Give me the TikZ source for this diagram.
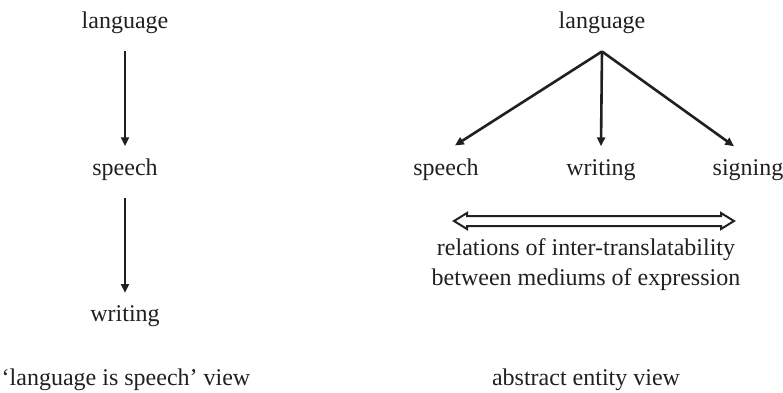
\documentclass[tikz,border=0pt]{standalone}
\usepackage{fontspec}
\setmainfont{Liberation Serif}
\usetikzlibrary{arrows.meta}
\definecolor{ink}{HTML}{231F20}

\begin{document}
\begin{tikzpicture}[x=0.5pt,y=-0.5pt,line width=1.3pt,color=ink,
  lbl/.style={inner sep=0pt,anchor=base,font=\fontsize{12}{15}\selectfont},
  arr/.style={-{Triangle[length=4.4pt,width=4pt]}},
  down/.style={arr,shorten <=8.5pt,shorten >=5.5pt}]
  \useasboundingbox (0,0) rectangle (783,392);
  % 'language is speech' view
  \node[lbl] (llang) at (125,28) {language};
  \node[lbl] (lspeech) at (125,175) {speech};
  \node[lbl] (lwriting) at (125,321) {writing};
  \draw[down] (llang) -- (lspeech);
  \draw[down] (lspeech) -- (lwriting);
  \node[lbl] (lview) at (126,385) {‘language is speech’ view};
  % abstract entity view
  \node[lbl] (rlang) at (602,28) {language};
  \coordinate (apex) at ([yshift=-8.5pt]rlang.south);
  \node[lbl] (rspeech) at (446,175) {speech};
  \node[lbl] (rwriting) at (601,175) {writing};
  \node[lbl] (rsigning) at (748,175) {signing};
  \draw[arr] (apex) -- ([xshift=4.5pt,yshift=5.8pt]rspeech.north);
  \draw[arr] (apex) -- ([yshift=5.8pt]rwriting.north);
  \draw[arr] (apex) -- ([xshift=-7pt,yshift=5.8pt]rsigning.north);
  % hollow double arrow
  \draw[line width=1pt,fill=white,line join=miter]
    (454,221) -- (467,213) -- (467,216) -- (721,216) -- (721,213) -- (734,221)
    -- (721,229) -- (721,226) -- (467,226) -- (467,229) -- cycle;
  \node[lbl] (rel1) at (586,255) {relations of inter-translatability};
  \node[lbl] (rel2) at (586,285) {between mediums of expression};
  \node[lbl] (rview) at (586,385) {abstract entity view};
\end{tikzpicture}
\end{document}
